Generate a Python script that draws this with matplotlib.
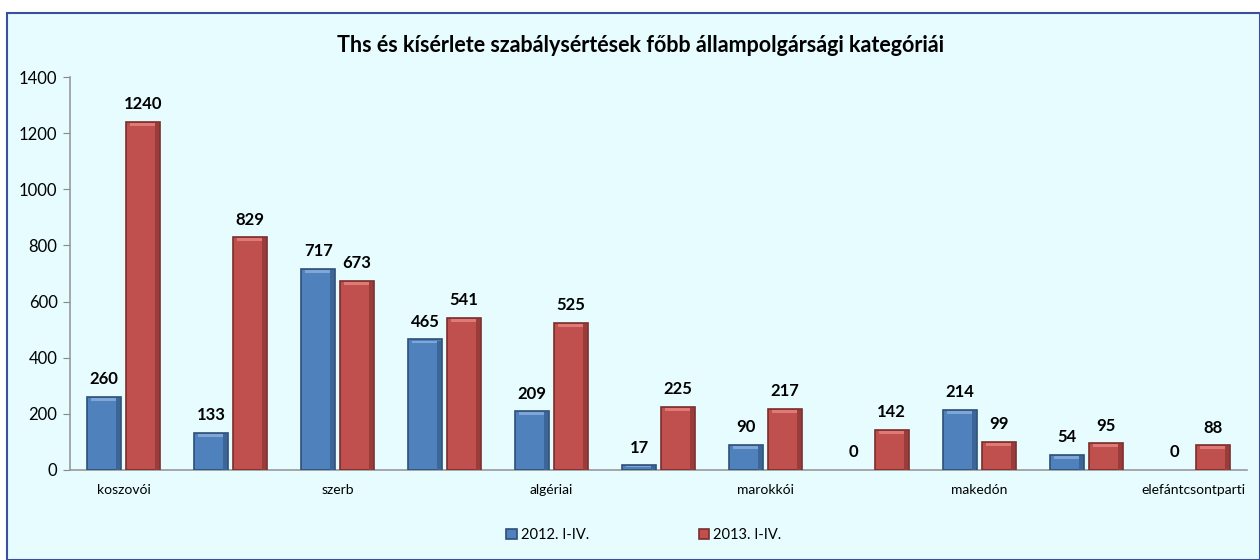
import matplotlib

matplotlib.use("Agg")
import matplotlib.pyplot as plt
import numpy as np
from matplotlib.patches import Rectangle

# --- data --------------------------------------------------------------------

categories = ["koszovói", "", "szerb", "", "algériai", "", "marokkói", "",
              "makedón", "", "elefántcsontparti"]
series_names = ["2012. I-IV.", "2013. I-IV."]
values_2012 = [260, 133, 717, 465, 209, 17, 90, 0, 214, 54, 0]
values_2013 = [1240, 829, 673, 541, 525, 225, 217, 142, 99, 95, 88]
y_ticks = [0, 200, 400, 600, 800, 1000, 1200, 1400]

title = "Ths és kísérlete szabálysértések főbb állampolgársági kategóriái"

# --- style -------------------------------------------------------------------

plt.rcParams["font.family"] = ["Lato", "DejaVu Sans"]
BG = "#E6FCFE"
BLUE, BLUE_EDGE = "#4F81BD", "#2E4F78"
RED, RED_EDGE = "#C0504D", "#7A2E2C"
BAR_W = 0.32

fig = plt.figure(figsize=(12.6, 5.6), dpi=100)
fig.patch.set_facecolor("white")
# chart frame
fig.patches.append(Rectangle((7 / 1260, 0), 1 - 7 / 1260, 1 - 13 / 560,
                             transform=fig.transFigure, facecolor=BG,
                             edgecolor="#3B4FA0", linewidth=1.5, zorder=-10))

ax = fig.add_axes([70 / 1260, 1 - 470 / 560, (1247 - 70) / 1260, (470 - 77) / 560])
ax.set_facecolor("none")

x = np.arange(len(categories))
off = BAR_W / 2 + 0.02
lw1 = [1.2 if v > 0 else 0 for v in values_2012]
lw2 = [1.2 if v > 0 else 0 for v in values_2013]
b1 = ax.bar(x - off, values_2012, BAR_W, color=BLUE, edgecolor=BLUE_EDGE,
            linewidth=lw1, label=series_names[0], zorder=3)
b2 = ax.bar(x + off, values_2013, BAR_W, color=RED, edgecolor=RED_EDGE,
            linewidth=lw2, label=series_names[1], zorder=3)

# bevel: light strip on top, darker strip on the right side
for bars, hl, sh in ((b1, "#7FA6D6", "#3D6698"), (b2, "#E07A77", "#9A3C3A")):
    for r in bars:
        h = r.get_height()
        if h <= 0:
            continue
        ax.add_patch(Rectangle((r.get_x() + 0.04, h - min(14, h * 0.4)),
                               r.get_width() - 0.08, min(10, h * 0.3),
                               facecolor=hl, edgecolor="none", zorder=4))
        ax.add_patch(Rectangle((r.get_x() + r.get_width() - 0.05, 0),
                               0.04, max(h - 4, 0),
                               facecolor=sh, edgecolor="none", zorder=4))

for bars in (b1, b2):
    for r in bars:
        h = r.get_height()
        ax.annotate(f"{h:.0f}", (r.get_x() + r.get_width() / 2, h),
                    xytext=(0, 7), textcoords="offset points",
                    ha="center", va="bottom", fontsize=12, fontweight="bold")

ax.set_xlim(-0.5, len(categories) - 0.5)
ax.set_ylim(0, 1400)
ax.set_yticks(y_ticks)
ax.set_xticks(x)
ax.set_xticklabels(categories, fontsize=10)
ax.tick_params(axis="x", length=0, pad=10)
ax.tick_params(axis="y", length=5, color="#888888", labelsize=12, pad=4)
for s in ("top", "right"):
    ax.spines[s].set_visible(False)
for s in ("left", "bottom"):
    ax.spines[s].set_color("#999999")
    ax.spines[s].set_linewidth(1.2)

fig.text(0.508, 1 - 45 / 560, title, ha="center", va="center",
         fontsize=15.5, fontweight="bold")

fig.legend(handles=[b1, b2], loc="center", bbox_to_anchor=(0.511, 1 - 535 / 560),
           ncol=2, frameon=False, fontsize=10.5, columnspacing=7.5,
           handlelength=0.7, handleheight=0.7, handletextpad=0.3)

fig.savefig("out.png", dpi=100, facecolor=fig.get_facecolor())
